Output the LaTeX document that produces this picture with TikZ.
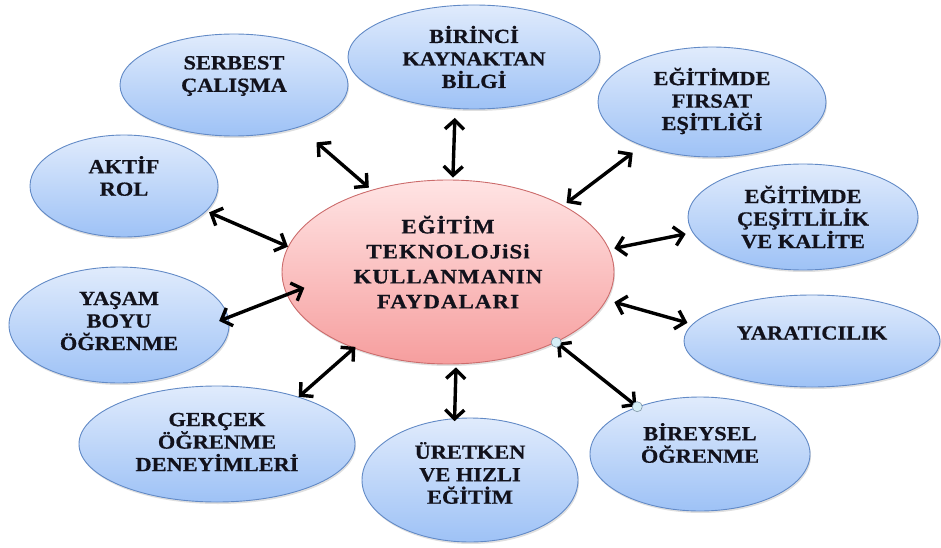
\documentclass[tikz,border=0pt]{standalone}
\usepackage{fontspec}
\setmainfont{Liberation Serif}[FakeStretch=1.12,FakeBold=0.6]
\usetikzlibrary{shapes.geometric,arrows.meta,shadows}

\definecolor{bubbletop}{RGB}{224,235,252}
\definecolor{bubblebot}{RGB}{158,194,246}
\definecolor{bubbleline}{RGB}{98,138,198}
\definecolor{hubtop}{RGB}{255,228,228}
\definecolor{hubbot}{RGB}{246,158,158}
\definecolor{hubline}{RGB}{204,108,108}
\definecolor{lblcol}{RGB}{18,18,28}
\definecolor{gripfill}{RGB}{214,238,246}
\definecolor{gripline}{RGB}{128,150,166}

\newcommand{\lblfont}{\fontsize{20}{22.5}\selectfont\bfseries}
\newcommand{\hubfont}{\fontsize{20.5}{25}\selectfont\bfseries\addfontfeature{LetterSpace=5}}

\tikzset{
  bubble/.style={ellipse, draw=bubbleline, line width=0.9pt, top color=bubbletop,
    bottom color=bubblebot, inner sep=0pt,
    drop shadow={shadow xshift=1pt, shadow yshift=-2pt, opacity=0.25}},
  hubnode/.style={ellipse, draw=hubline, line width=0.9pt, top color=hubtop,
    bottom color=hubbot, inner sep=0pt,
    drop shadow={shadow xshift=1pt, shadow yshift=-2pt, opacity=0.25}},
  lbl/.style={align=center, text=lblcol, font=\lblfont, inner sep=0pt},
  link/.style={{Straight Barb[length=9pt,width=19pt]}-{Straight Barb[length=9pt,width=19pt]},
    line width=3.4pt},
  grip/.style={circle, draw=gripline, fill=gripfill, line width=0.6pt,
    minimum size=10pt, inner sep=0pt},
}

\begin{document}
\begin{tikzpicture}[x=1pt,y=-1pt]
\useasboundingbox (0,0) rectangle (941,548);

% centre
\node[hubnode, minimum width=332pt, minimum height=184pt] (hub) at (448,272) {};

% benefits round it
\node[bubble, minimum width=228pt, minimum height=102pt] (serbest) at (234,85) {};
\node[bubble, minimum width=252pt, minimum height=104pt] (birinci) at (474,57) {};
\node[bubble, minimum width=228pt, minimum height=110pt] (firsat) at (712,102) {};
\node[bubble, minimum width=230pt, minimum height=106pt] (cesit) at (803,217) {};
\node[bubble, minimum width=256pt, minimum height=92pt] (yarat) at (812,341) {};
\node[bubble, minimum width=220pt, minimum height=114pt] (bireysel) at (700,454) {};
\node[bubble, minimum width=216pt, minimum height=124pt] (uretken) at (470,480) {};
\node[bubble, minimum width=276pt, minimum height=116pt] (gercek) at (217,444) {};
\node[bubble, minimum width=220pt, minimum height=116pt] (yasam) at (119,325) {};
\node[bubble, minimum width=188pt, minimum height=102pt] (aktif) at (124,186) {};

% texts
\node[lbl, font=\hubfont] (hub-t) at ([yshift=10pt]hub.center) {EĞİTİM\\TEKNOLOJiSi\\KULLANMANIN\\FAYDALARI};
\node[lbl] (serbest-t) at ([yshift=9pt]serbest.center) {SERBEST\\ÇALIŞMA};
\node[lbl] (birinci-t) at ([yshift=0pt]birinci.center) {BİRİNCİ\\KAYNAKTAN\\BİLGİ};
\node[lbl] (firsat-t) at ([yshift=1pt]firsat.center) {EĞİTİMDE\\FIRSAT\\EŞİTLİĞİ};
\node[lbl] (cesit-t) at ([yshift=0pt]cesit.center) {EĞİTİMDE\\ÇEŞİTLİLİK\\VE KALİTE};
\node[lbl] (yarat-t) at ([yshift=8pt]yarat.center) {YARATICILIK};
\node[lbl] (bireysel-t) at ([yshift=11pt]bireysel.center) {BİREYSEL\\ÖĞRENME};
\node[lbl] (uretken-t) at ([yshift=7pt]uretken.center) {ÜRETKEN\\VE HIZLI\\EĞİTİM};
\node[lbl] (gercek-t) at ([yshift=2pt]gercek.center) {GERÇEK\\ÖĞRENME\\DENEYİMLERİ};
\node[lbl] (yasam-t) at ([yshift=4pt]yasam.center) {YAŞAM\\BOYU\\ÖĞRENME};
\node[lbl] (aktif-t) at ([yshift=10pt]aktif.center) {AKTİF\\ROL};

% arrows
\draw[link, shorten <=23pt, shorten >=3.5pt] (serbest.-33.5) -- (hub.133.6);
\draw[link, shorten <=9pt, shorten >=2pt] (birinci.250.7) -- (hub.87);
\draw[link, shorten <=11.5pt, shorten >=4pt] (firsat.212.3) -- (hub.30.5);
\draw[link, shorten <=7pt, shorten >=5pt] (cesit.188.8) -- (hub.8.6);
\draw[link, shorten <=5pt, shorten >=8pt] (yarat.172.8) -- (hub.-10.6);
\draw[link, shorten <=1pt, shorten >=1pt] (bireysel.143.7) -- (hub.-33.1);
\draw[link, shorten <=-3pt, shorten >=3pt] (uretken.104.5) -- (hub.-85.8);
\draw[link, shorten <=0pt, shorten >=-2pt] (gercek.30.4) -- (hub.219.5);
\draw[link, shorten <=-10pt, shorten >=-19pt] (yasam.4) -- (hub.188.5);
\draw[link, shorten <=3pt, shorten >=0pt] (aktif.-17.8) -- (hub.171);

% handles on the selected connector
\node[grip] (grip-a) at (hub.-33.1) {};
\node[grip] (grip-b) at (bireysel.143.7) {};
\end{tikzpicture}
\end{document}
